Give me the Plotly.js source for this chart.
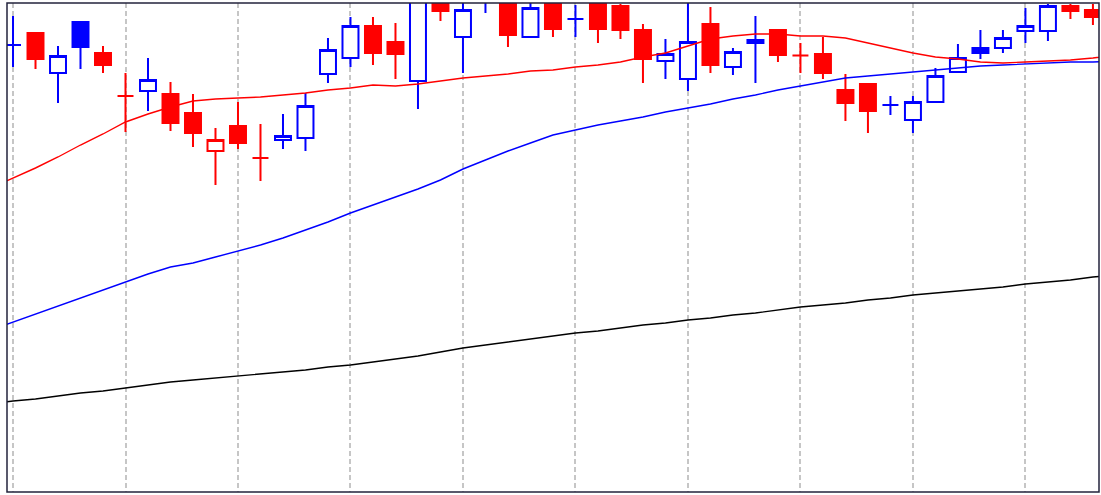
<!DOCTYPE html>
<html>
<head>
<meta charset="utf-8">
<script src="https://cdn.plot.ly/plotly-3.0.1.min.js"></script>
<style>html,body{margin:0;padding:0;background:#fff;}#chart{width:1101px;height:495px;}</style>
</head>
<body>
<div id="chart"></div>
<script>
// Trading-day index of each candle
const days = [0,1,2,3,4,5,6,7,8,9,10,11,12,13,14,15,16,17,18,19,20,21,22,23,24,25,26,27,28,29,30,31,32,33,34,35,36,37,38,39,40,41,42,43,44,45,46,47,48];
const openP  = [455,467,427,478,447,404,409,406,387,349,374,342,360,362,426,442,474,458,419,508,463,500,505,463,505,481,503,494,470,439,421,476,433,460,470,444.5,446,410,416,395,380,398,428,452,452,469,469,494,490];
const highP  = [484,468,454,478,454,427,442,418,406,372,398,376,386,407,462,483,483,477,510,512,505,520,512,503,510,495,508,496,476,461,500,493,452,484,470,457,463,426,416,404,404,432,456,470,470,492,496,496,496];
const lowP   = [433,431,397,431,427,368,389,369,353,315,351,319,351,349,417,433,435,421,391,479,427,487,453,463,463,463,457,461,417,421,409,427,425,417,438,427,421,379,367,385,367,398,428,441,447,457,459,481,475];
const closeP = [455,441,444,453,435,404,420,377,367,360,357,342,364,394,450,474,447,446,505,489,490,510,465,492,471,481,471,470,441,446,458,435,448,457,445,444.5,427,397,389,395,398,424,442,447,462,474,494,489,483];

// Moving averages (one value per day, including one day either side of the window)
const maDays = [-1,0,1,2,3,4,5,6,7,8,9,10,11,12,13,14,15,16,17,18,19,20,21,22,23,24,25,26,27,28,29,30,31,32,33,34,35,36,37,38,39,40,41,42,43,44,45,46,47,48,49];
const maShort = [312,322,332,343,355,366,378,386,393,399,401,402,403,405,407,410,412,415,414,416,419,422,424,426,429,430,433,435,438,443,447,454,461,464,466,466,464,464,462,457,452,447,443,441,438,437,438,439,440,442,445];
const maMid   = [170,178,186,194,202,210,218,226,233,237,243,249,255,262,270,278,287,295,303,311,320,331,340,349,357,365,370,375,379,383,388,392,396,401,405,410,414,418,422,424,426,428,430,432,434,435,436,437,438,438,439];
const maLong  = [96,99,101,104,107,109,112,115,118,120,122,124,126,128,130,133,135,138,141,144,148,152,155,158,161,164,167,169,172,175,177,180,182,185,187,190,193,195,197,200,202,205,207,209,211,213,216,218,220,223,225];

const RED = '#ff0000', BLUE = '#0000ff';

// Colour: vs previous close (blue = higher, red = lower); fill: hollow if close >= open
const groups = {bh: [], rh: [], rf: [], bf: []};
days.forEach((d, i) => {
  const up = i === 0 ? true : closeP[i] > closeP[i - 1];
  const hollow = closeP[i] >= openP[i];
  const key = (up ? 'b' : 'r') + (hollow ? 'h' : 'f');
  groups[key].push(i);
});

function candleTrace(idx, color, fill) {
  const style = {line: {color: color, width: 2}, fillcolor: fill};
  return {
    type: 'candlestick',
    x: idx.map(i => days[i]),
    open: idx.map(i => openP[i]),
    high: idx.map(i => highP[i]),
    low: idx.map(i => lowP[i]),
    close: idx.map(i => closeP[i]),
    increasing: style,
    decreasing: style,
    line: {width: 2},
    whiskerwidth: 0,
    hoverinfo: 'skip',
    showlegend: false
  };
}

const traces = [
  candleTrace(groups.bh, BLUE, '#ffffff'),
  candleTrace(groups.rh, RED, '#ffffff'),
  candleTrace(groups.rf, RED, RED),
  candleTrace(groups.bf, BLUE, BLUE),
  {type: 'scatter', mode: 'lines', x: maDays, y: maLong, line: {color: '#000000', width: 1.4}, hoverinfo: 'skip'},
  {type: 'scatter', mode: 'lines', x: maDays, y: maMid, line: {color: BLUE, width: 1.4}, hoverinfo: 'skip'},
  {type: 'scatter', mode: 'lines', x: maDays, y: maShort, line: {color: RED, width: 1.4}, hoverinfo: 'skip'}
];

const layout = {
  width: 1101, height: 495,
  margin: {l: 7, r: 2, t: 3, b: 3, pad: 0},
  paper_bgcolor: '#ffffff', plot_bgcolor: '#ffffff',
  showlegend: false,
  boxgap: 0.29, boxgroupgap: 0,
  xaxis: {
    range: [-0.267, 48.27], tick0: 0, dtick: 5,
    showgrid: true, gridcolor: '#c6c6c6', gridwidth: 2, griddash: '5px,3px',
    showticklabels: false, ticks: '', zeroline: false, showline: false,
    rangeslider: {visible: false}, fixedrange: true
  },
  yaxis: {
    range: [8, 497], showgrid: false, zeroline: false,
    showticklabels: false, ticks: '', showline: false, fixedrange: true
  },
  shapes: [{type: 'rect', xref: 'paper', yref: 'paper', x0: 0, x1: 1, y0: 0, y1: 1,
            line: {color: '#23233c', width: 1.5}, layer: 'above'}]
};

Plotly.newPlot('chart', traces, layout, {staticPlot: true, displayModeBar: false});
</script>
</body>
</html>
